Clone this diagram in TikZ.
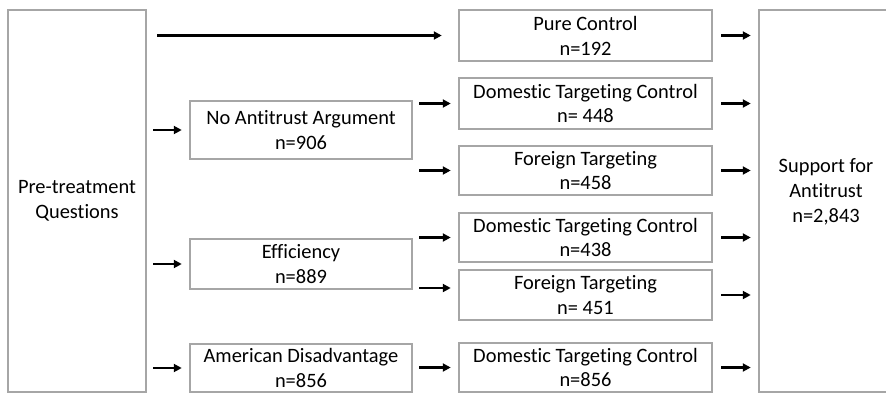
\documentclass[tikz,border=0pt]{standalone}
\usepackage{fontspec}
\setmainfont{Carlito}[Ligatures=NoCommon]
\usetikzlibrary{arrows,arrows.meta,positioning,calc}
\definecolor{boxgray}{RGB}{166,166,166}
\tikzset{
>={Triangle[length=8bp,width=8bp]},
  punkt/.style={
    rectangle,
    draw=boxgray, line width=2.5bp,
    minimum width=253bp,
    minimum height=50bp,
    inner sep=0pt,
    align=center,
    font=\fontsize{20.5}{25}\selectfont},
  arm/.style={punkt, minimum width=222bp},
  tall/.style={punkt, minimum width=138bp, minimum height=382bp},
  line/.style={draw, line width=2.6bp, ->, shorten <=6bp, shorten >=7bp},
}
\begin{document}
\begin{tikzpicture}[x=1bp, y=-1bp]
    \useasboundingbox (0,0) rectangle (886,395);

    \node [tall] (pre) at (77,201) {Pre-treatment\\Questions};
    \node [tall, minimum width=134bp, text depth=21bp] (support) at (826,201) {Support for\\Antitrust\\n=2,843};

    % treatment arms
    \node [arm, minimum height=58bp] (noarg) at (301,130) {No Antitrust Argument\\n=906};
    \node [arm] (effic) at (301,264) {Efficiency\\n=889};
    \node [arm, minimum height=48bp] (amdis) at (301,368) {American Disadvantage\\n=856};

    % targeting conditions
    \node [punkt, minimum height=51bp] (pure) at (585.5,35.5) {Pure Control\\n=192};
    \node [punkt, minimum height=51bp] (domA) at (585.5,103.5) {Domestic Targeting Control\\n= 448};
    \node [punkt, minimum height=49bp] (forA) at (585.5,170.5) {Foreign Targeting\\n=458};
    \node [punkt, minimum height=49bp] (domB) at (585.5,237.5) {Domestic Targeting Control\\n=438};
    \node [punkt] (forB) at (585.5,295) {Foreign Targeting\\n= 451};
    \node [punkt, minimum height=49bp] (domC) at (585.5,367.5) {Domestic Targeting Control\\n=856};
    \coordinate (forBin) at ([yshift=7bp]forB.west);

    \path[line, shorten <=10bp, shorten >=16bp] (pre.east |- pure) -- (pure.west);
    \path[line] (pre.east |- noarg) -- (noarg.west);
    \path[line] (pre.east |- effic) -- (effic.west);
    \path[line] (pre.east |- amdis) -- (amdis.west);

    \path[line] (noarg.east |- domA) -- (domA.west);
    \path[line] (noarg.east |- forA) -- (forA.west);
    \path[line] (effic.east |- domB) -- (domB.west);
    \path[line] (effic.east |- forBin) -- (forBin);
    \path[line] (amdis.east |- domC) -- (domC.west);

    \foreach \arm in {pure,domA,forA,domB,forB,domC}
        \path[line, shorten <=8bp] (\arm.east) -- (\arm.east -| support.west);

\end{tikzpicture}
\end{document}
